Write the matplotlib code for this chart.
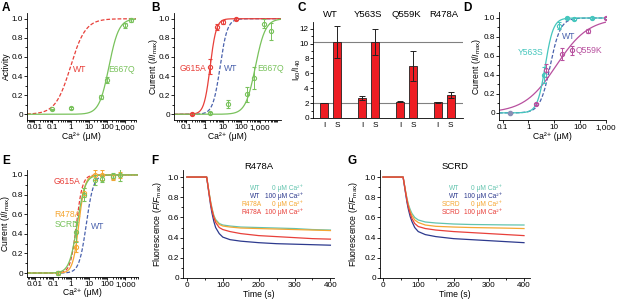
import numpy as np
import matplotlib
matplotlib.use('Agg')
import matplotlib.pyplot as plt
from matplotlib.ticker import FixedLocator, FixedFormatter, LogLocator, NullFormatter, MultipleLocator, NullLocator

plt.rcParams['font.family'] = ['Liberation Sans', 'DejaVu Sans']
plt.rcParams['mathtext.fontset'] = 'custom'
plt.rcParams['mathtext.rm'] = 'Liberation Sans'
plt.rcParams['mathtext.it'] = 'Liberation Sans:italic'

RED = '#e8403a'
GREEN = '#79c25c'
BLUE = '#4a62ad'
CYAN = '#45c6bd'
MAGENTA = '#b8509f'
ORANGE = '#f5a733'
NAVY = '#2d3a8e'
TEAL = '#62c4ae'

# ---- panel A: activity ----
a_e667q_x = [0.1, 1, 50, 100, 1000, 2000]
a_e667q_y = [0.05, 0.07, 0.18, 0.36, 0.93, 0.99]
a_e667q_err = [0.01, 0.01, 0.02, 0.03, 0.03, 0.02]
a_wt_fit = [1.0, 1.05]       # EC50, hill n
a_e667q_fit = [130, 1.6]

# ---- panel B ----
b_g615a_x = [0.2, 2, 5, 10, 50]
b_g615a_y = [0.0, 0.5, 0.91, 0.97, 1.0]
b_g615a_err = [0.01, 0.08, 0.03, 0.02, 0.01]
b_e667q_x = [2, 20, 200, 500, 1700, 4000]
b_e667q_y = [0.01, 0.11, 0.21, 0.38, 0.95, 0.87]
b_e667q_err = [0.01, 0.04, 0.08, 0.12, 0.05, 0.09]
g615a_fit = [2.0, 2.6]
wt_fit = [7.0, 2.2]
b_e667q_fit = [600, 1.6]

# ---- panel C ----
c_groups = ['WT', 'Y563S', 'Q559K', 'R478A']
c_i_vals = [2.0, 2.7, 2.2, 2.1]
c_i_err = [0.05, 0.3, 0.1, 0.1]
c_s_vals = [10.2, 10.2, 7.0, 3.1]
c_s_err = [2.2, 1.8, 2.0, 0.35]
c_ref_lines = [10.2, 1.95]

# ---- panel D ----
d_y563s_x = [0.2, 4, 15, 30, 60, 300]
d_y563s_y = [0.0, 0.4, 0.92, 1.0, 0.99, 1.0]
d_y563s_err = [0.01, 0.08, 0.04, 0.01, 0.01, 0.01]
d_q559k_x = [2, 5, 20, 50, 200, 1000]
d_q559k_y = [0.09, 0.45, 0.62, 0.66, 0.86, 1.0]
d_q559k_err = [0.01, 0.07, 0.06, 0.05, 0.02, 0.01]
d_y563s_fit = [4.5, 2.8]
d_q559k_fit = [12, 0.7]

# ---- panel E ----
e_x = [0.2, 2, 5, 20, 50, 200, 500]
e_r478a_y = [0.0, 0.27, 0.82, 1.0, 1.0, 0.98, 1.0]
e_r478a_err = [0.01, 0.06, 0.05, 0.05, 0.05, 0.03, 0.03]
e_scrd_y = [0.0, 0.42, 0.8, 0.95, 0.96, 0.99, 1.0]
e_scrd_err = [0.02, 0.1, 0.07, 0.05, 0.03, 0.03, 0.06]
e_r478a_fit = [2.7, 2.6]
e_scrd_fit = [2.2, 2.0]

# ---- panel F (R478A) ----
f_t = [0, 55, 58, 62, 66, 70, 75, 80, 90, 100, 120, 150, 200, 250, 300, 350, 400]
f_wt0 = [1, 1, 0.93, 0.84, 0.76, 0.69, 0.62, 0.58, 0.54, 0.525, 0.515, 0.505, 0.50, 0.495, 0.49, 0.48, 0.475]
f_wt100 = [1, 1, 0.92, 0.82, 0.72, 0.64, 0.56, 0.50, 0.44, 0.405, 0.38, 0.365, 0.35, 0.34, 0.335, 0.33, 0.325]
f_mut0 = [1, 1, 0.93, 0.84, 0.75, 0.68, 0.61, 0.57, 0.53, 0.515, 0.505, 0.495, 0.49, 0.485, 0.48, 0.475, 0.47]
f_mut100 = [1, 1, 0.93, 0.83, 0.74, 0.67, 0.60, 0.55, 0.50, 0.48, 0.46, 0.44, 0.42, 0.41, 0.40, 0.39, 0.385]

# ---- panel G (SCRD) ----
g_t = [0, 57, 60, 64, 68, 72, 77, 82, 90, 100, 120, 150, 200, 250, 300, 350, 400]
g_wt0 = [1, 1, 0.94, 0.86, 0.79, 0.73, 0.68, 0.64, 0.60, 0.575, 0.555, 0.545, 0.535, 0.53, 0.528, 0.526, 0.525]
g_wt100 = [1, 1, 0.93, 0.84, 0.75, 0.68, 0.61, 0.56, 0.50, 0.46, 0.43, 0.41, 0.39, 0.38, 0.37, 0.36, 0.35]
g_mut0 = [1, 1, 0.94, 0.86, 0.78, 0.72, 0.66, 0.62, 0.575, 0.55, 0.525, 0.512, 0.505, 0.50, 0.497, 0.494, 0.49]
g_mut100 = [1, 1, 0.94, 0.85, 0.77, 0.70, 0.64, 0.59, 0.54, 0.51, 0.49, 0.475, 0.46, 0.45, 0.44, 0.43, 0.42]

W, H = 617, 299
fig = plt.figure(figsize=(W / 100, H / 100), dpi=100)

TICK = 5.9
LAB = 6.2


def px_axes(l, t, r, b):
    return fig.add_axes([l / W, 1 - b / H, (r - l) / W, (b - t) / H])


def hill(x, p):
    return x ** p[1] / (p[0] ** p[1] + x ** p[1])


def style(ax):
    for s in ['top', 'right']:
        ax.spines[s].set_visible(False)
    for s in ['left', 'bottom']:
        ax.spines[s].set_linewidth(0.6)
    ax.tick_params(which='both', direction='out', width=0.6, labelsize=TICK, pad=1)
    ax.tick_params(which='major', length=2)
    ax.tick_params(which='minor', length=1.3)


def log_x(ax, lo, hi, majors, minor=True):
    ax.set_xscale('log')
    ax.set_xlim(lo, hi)
    ax.xaxis.set_major_locator(FixedLocator(majors))
    ax.xaxis.set_major_formatter(FixedFormatter([f'{v:,g}' for v in majors]))
    if minor:
        ax.xaxis.set_minor_locator(LogLocator(base=10, subs=np.arange(2, 10), numticks=30))
    else:
        ax.xaxis.set_minor_locator(NullLocator())
    ax.xaxis.set_minor_formatter(NullFormatter())


def frac_y(ax, lo, hi):
    ax.set_ylim(lo, hi)
    ax.set_yticks([0, 0.2, 0.4, 0.6, 0.8, 1.0])
    ax.set_yticklabels(['0', '0.2', '0.4', '0.6', '0.8', '1.0'])
    ax.yaxis.set_minor_locator(MultipleLocator(0.1))


def curve(ax, lo, hi, p, color, ls='-'):
    xs = np.logspace(np.log10(lo), np.log10(hi), 300)
    ax.plot(xs, hill(xs, p), color=color, ls=ls, lw=0.9, dashes=(3, 1.5) if ls == '--' else (None, None))


def points(ax, x, y, e, color):
    ax.errorbar(x, y, yerr=e, fmt='o', ms=3, mfc='none', mec=color, mew=0.8,
                ecolor=color, elinewidth=0.7, capsize=1.2, capthick=0.7, zorder=5)


def labels(ax, l, t, r, b, ylab, ylab_x, xlab, xlab_y):
    # ylab_x: centre of rotated label in px, xlab_y: centre of x label in px
    ax.set_ylabel(ylab, fontsize=LAB)
    ax.yaxis.set_label_coords((ylab_x + 4 - l) / (r - l), 0.5)
    ax.set_xlabel(xlab, fontsize=LAB)
    ax.xaxis.set_label_coords(0.5, (b - xlab_y + 4) / (b - t))


CA = 'Ca²⁺ (μM)'
CUR = 'Current ($\\mathit{I/I}_{\\mathrm{max}}$)'

# ---------------- A ----------------
box = (27, 13, 136, 120)
ax = px_axes(*box)
style(ax)
log_x(ax, 0.004, 4000, [0.01, 0.1, 1, 10, 100, 1000])
frac_y(ax, -0.06, 1.06)
curve(ax, 0.004, 4000, a_wt_fit, RED, '--')
curve(ax, 0.004, 4000, a_e667q_fit, GREEN)
points(ax, a_e667q_x, a_e667q_y, a_e667q_err, GREEN)
ax.text(3.2, 0.47, 'WT', color=RED, fontsize=LAB, ha='center', va='center')
ax.text(660, 0.47, 'E667Q', color=GREEN, fontsize=LAB, ha='center', va='center')
labels(ax, *box, 'Activity', 7, CA, 136)

# ---------------- B ----------------
box = (174, 13, 281, 120)
ax = px_axes(*box)
style(ax)
log_x(ax, 0.021, 15000, [0.1, 1, 10, 100, 1000])
frac_y(ax, -0.06, 1.06)
curve(ax, 0.021, 15000, wt_fit, BLUE, '--')
curve(ax, 0.021, 15000, g615a_fit, RED)
curve(ax, 0.021, 15000, b_e667q_fit, GREEN)
points(ax, b_g615a_x, b_g615a_y, b_g615a_err, RED)
points(ax, b_e667q_x, b_e667q_y, b_e667q_err, GREEN)
ax.text(0.24, 0.48, 'G615A', color=RED, fontsize=LAB, ha='center', va='center')
ax.text(25, 0.48, 'WT', color=BLUE, fontsize=LAB, ha='center', va='center')
ax.text(750, 0.48, 'E667Q', color=GREEN, fontsize=LAB, ha='left', va='center')
labels(ax, *box, CUR, 156, CA, 136)

# ---------------- C ----------------
box = (313, 22, 463, 118)
ax = px_axes(*box)
style(ax)
gap = 2.92
xi = np.arange(len(c_groups)) * gap
xs = xi + 1
for yv in c_ref_lines:
    ax.axhline(yv, color='#808080', lw=0.8, zorder=0)
ax.bar(xi, c_i_vals, width=0.62, color='#ee1d23', edgecolor='#222222', lw=0.6, zorder=2)
ax.bar(xs, c_s_vals, width=0.62, color='#ee1d23', edgecolor='#222222', lw=0.6, zorder=2)
ax.errorbar(xi, c_i_vals, yerr=c_i_err, fmt='none', ecolor='#222222', elinewidth=0.7, capsize=2, capthick=0.7, zorder=3)
ax.errorbar(xs, c_s_vals, yerr=c_s_err, fmt='none', ecolor='#222222', elinewidth=0.7, capsize=2, capthick=0.7, zorder=3)
ax.set_xlim(-0.85, 10.7)
ax.set_ylim(0, 12.9)
ax.set_yticks(range(0, 13, 2))
ax.yaxis.set_minor_locator(MultipleLocator(1))
ax.set_xticks(list(xi) + list(xs))
ax.set_xticklabels(['I'] * 4 + ['S'] * 4)
ax.tick_params(axis='x', length=0, pad=3)
for g, name in enumerate(c_groups):
    ax.text(xi[g] + 0.5, 1.08, name, transform=ax.get_xaxis_transform(), fontsize=6.8, ha='center', va='center')
ax.set_ylabel('I$_{60}$/I$_{40}$', fontsize=LAB)
ax.yaxis.set_label_coords((303 - 313) / 150, 0.5)

# ---------------- D ----------------
box = (499, 12, 606, 120)
ax = px_axes(*box)
style(ax)
log_x(ax, 0.073, 1000, [0.1, 1, 10, 100, 1000], minor=False)
frac_y(ax, -0.075, 1.063)
curve(ax, 0.073, 1000, wt_fit, BLUE, '--')
curve(ax, 0.073, 1000, d_q559k_fit, MAGENTA)
curve(ax, 0.073, 1000, d_y563s_fit, CYAN)
ax.errorbar([0.2], [0.0], yerr=[0.01], fmt='o', ms=3, color='#8a8fb5', zorder=6)
points(ax, d_y563s_x[1:], d_y563s_y[1:], d_y563s_err[1:], CYAN)
points(ax, d_q559k_x, d_q559k_y, d_q559k_err, MAGENTA)
ax.text(35, 0.81, 'WT', color=BLUE, fontsize=LAB, ha='center', va='center')
ax.text(1.2, 0.64, 'Y563S', color=CYAN, fontsize=LAB, ha='center', va='center')
ax.text(215, 0.66, 'Q559K', color=MAGENTA, fontsize=LAB, ha='center', va='center')
labels(ax, *box, CUR, 479, CA, 136)

# ---------------- E ----------------
box = (27, 170, 138, 277)
ax = px_axes(*box)
style(ax)
log_x(ax, 0.0037, 5000, [0.01, 0.1, 1, 10, 100, 1000])
frac_y(ax, -0.04, 1.05)
curve(ax, 0.0037, 5000, wt_fit, BLUE, '--')
curve(ax, 0.0037, 5000, g615a_fit, RED, '--')
curve(ax, 0.0037, 5000, e_r478a_fit, ORANGE)
curve(ax, 0.0037, 5000, e_scrd_fit, GREEN)
points(ax, e_x, e_r478a_y, e_r478a_err, ORANGE)
points(ax, e_x, e_scrd_y, e_scrd_err, GREEN)
ax.text(0.6, 0.93, 'G615A', color=RED, fontsize=LAB, ha='center', va='center')
ax.text(0.12, 0.6, 'R478A', color=ORANGE, fontsize=LAB, ha='left', va='center')
ax.text(0.12, 0.49, 'SCRD', color=GREEN, fontsize=LAB, ha='left', va='center')
ax.text(28, 0.47, 'WT', color=BLUE, fontsize=LAB, ha='center', va='center')
labels(ax, *box, CUR, 8, CA, 292)


# ---------------- F / G ----------------
def trace_panel(box, t, wt0, wt100, m0, m100, name, x_wt, x_mut, x_end):
    ax = px_axes(*box)
    style(ax)
    ax.plot(t, wt0, color=TEAL, lw=0.9)
    ax.plot(t, wt100, color=NAVY, lw=0.9)
    ax.plot(t, m0, color=ORANGE, lw=0.9)
    ax.plot(t, m100, color=RED, lw=0.9)
    ax.set_xticks([0, 100, 200, 300, 400])
    ax.xaxis.set_minor_locator(MultipleLocator(50))
    frac_y(ax, 0, 1.07)
    ax.yaxis.set_minor_locator(MultipleLocator(0.1))
    rows = [('WT', '0 μM Ca²⁺', TEAL, x_wt), ('WT', '100 μM Ca²⁺', NAVY, x_wt),
            (name, '0 μM Ca²⁺', ORANGE, x_mut), (name, '100 μM Ca²⁺', RED, x_mut)]
    for k, (nm, conc, col, xn) in enumerate(rows):
        yy = 0.89 - 0.08 * k
        ax.text(xn, yy, nm, color=col, fontsize=4.8, ha='left', va='center')
        ax.text(x_end, yy, conc, color=col, fontsize=4.8, ha='right', va='center')
    ax.text(0.5, 1.03, name, transform=ax.transAxes, fontsize=6.8, ha='center', va='center')
    ax.set_ylabel('Fluorescence ($\\mathit{F/F}_{\\mathrm{max}}$)', fontsize=LAB)
    ax.set_xlabel('Time (s)', fontsize=LAB)
    ax.xaxis.set_label_coords(0.5, (box[3] - 290) / (box[3] - box[1]))
    return ax


ax = trace_panel((183, 170, 334, 278), f_t, f_wt0, f_wt100, f_mut0, f_mut100, 'R478A', 176, 151, 324)
ax.set_xlim(-11, 410)
ax.yaxis.set_label_coords((164 - 183) / 151, 0.5)
ax = trace_panel((380, 170, 530, 278), g_t, g_wt0, g_wt100, g_mut0, g_mut100, 'SCRD', 187, 167, 338)
ax.set_xlim(-8.5, 417)
ax.yaxis.set_label_coords((360 - 380) / 150, 0.5)

# panel letters
for letter, x, y in [('A', 2, 2), ('B', 151, 2), ('C', 297, 2), ('D', 463, 2),
                     ('E', 2, 155), ('F', 151, 155), ('G', 348, 155)]:
    fig.text(x / W, 1 - y / H, letter, fontsize=8.5, fontweight='bold', ha='left', va='top')

fig.savefig('out.png', dpi=100)
